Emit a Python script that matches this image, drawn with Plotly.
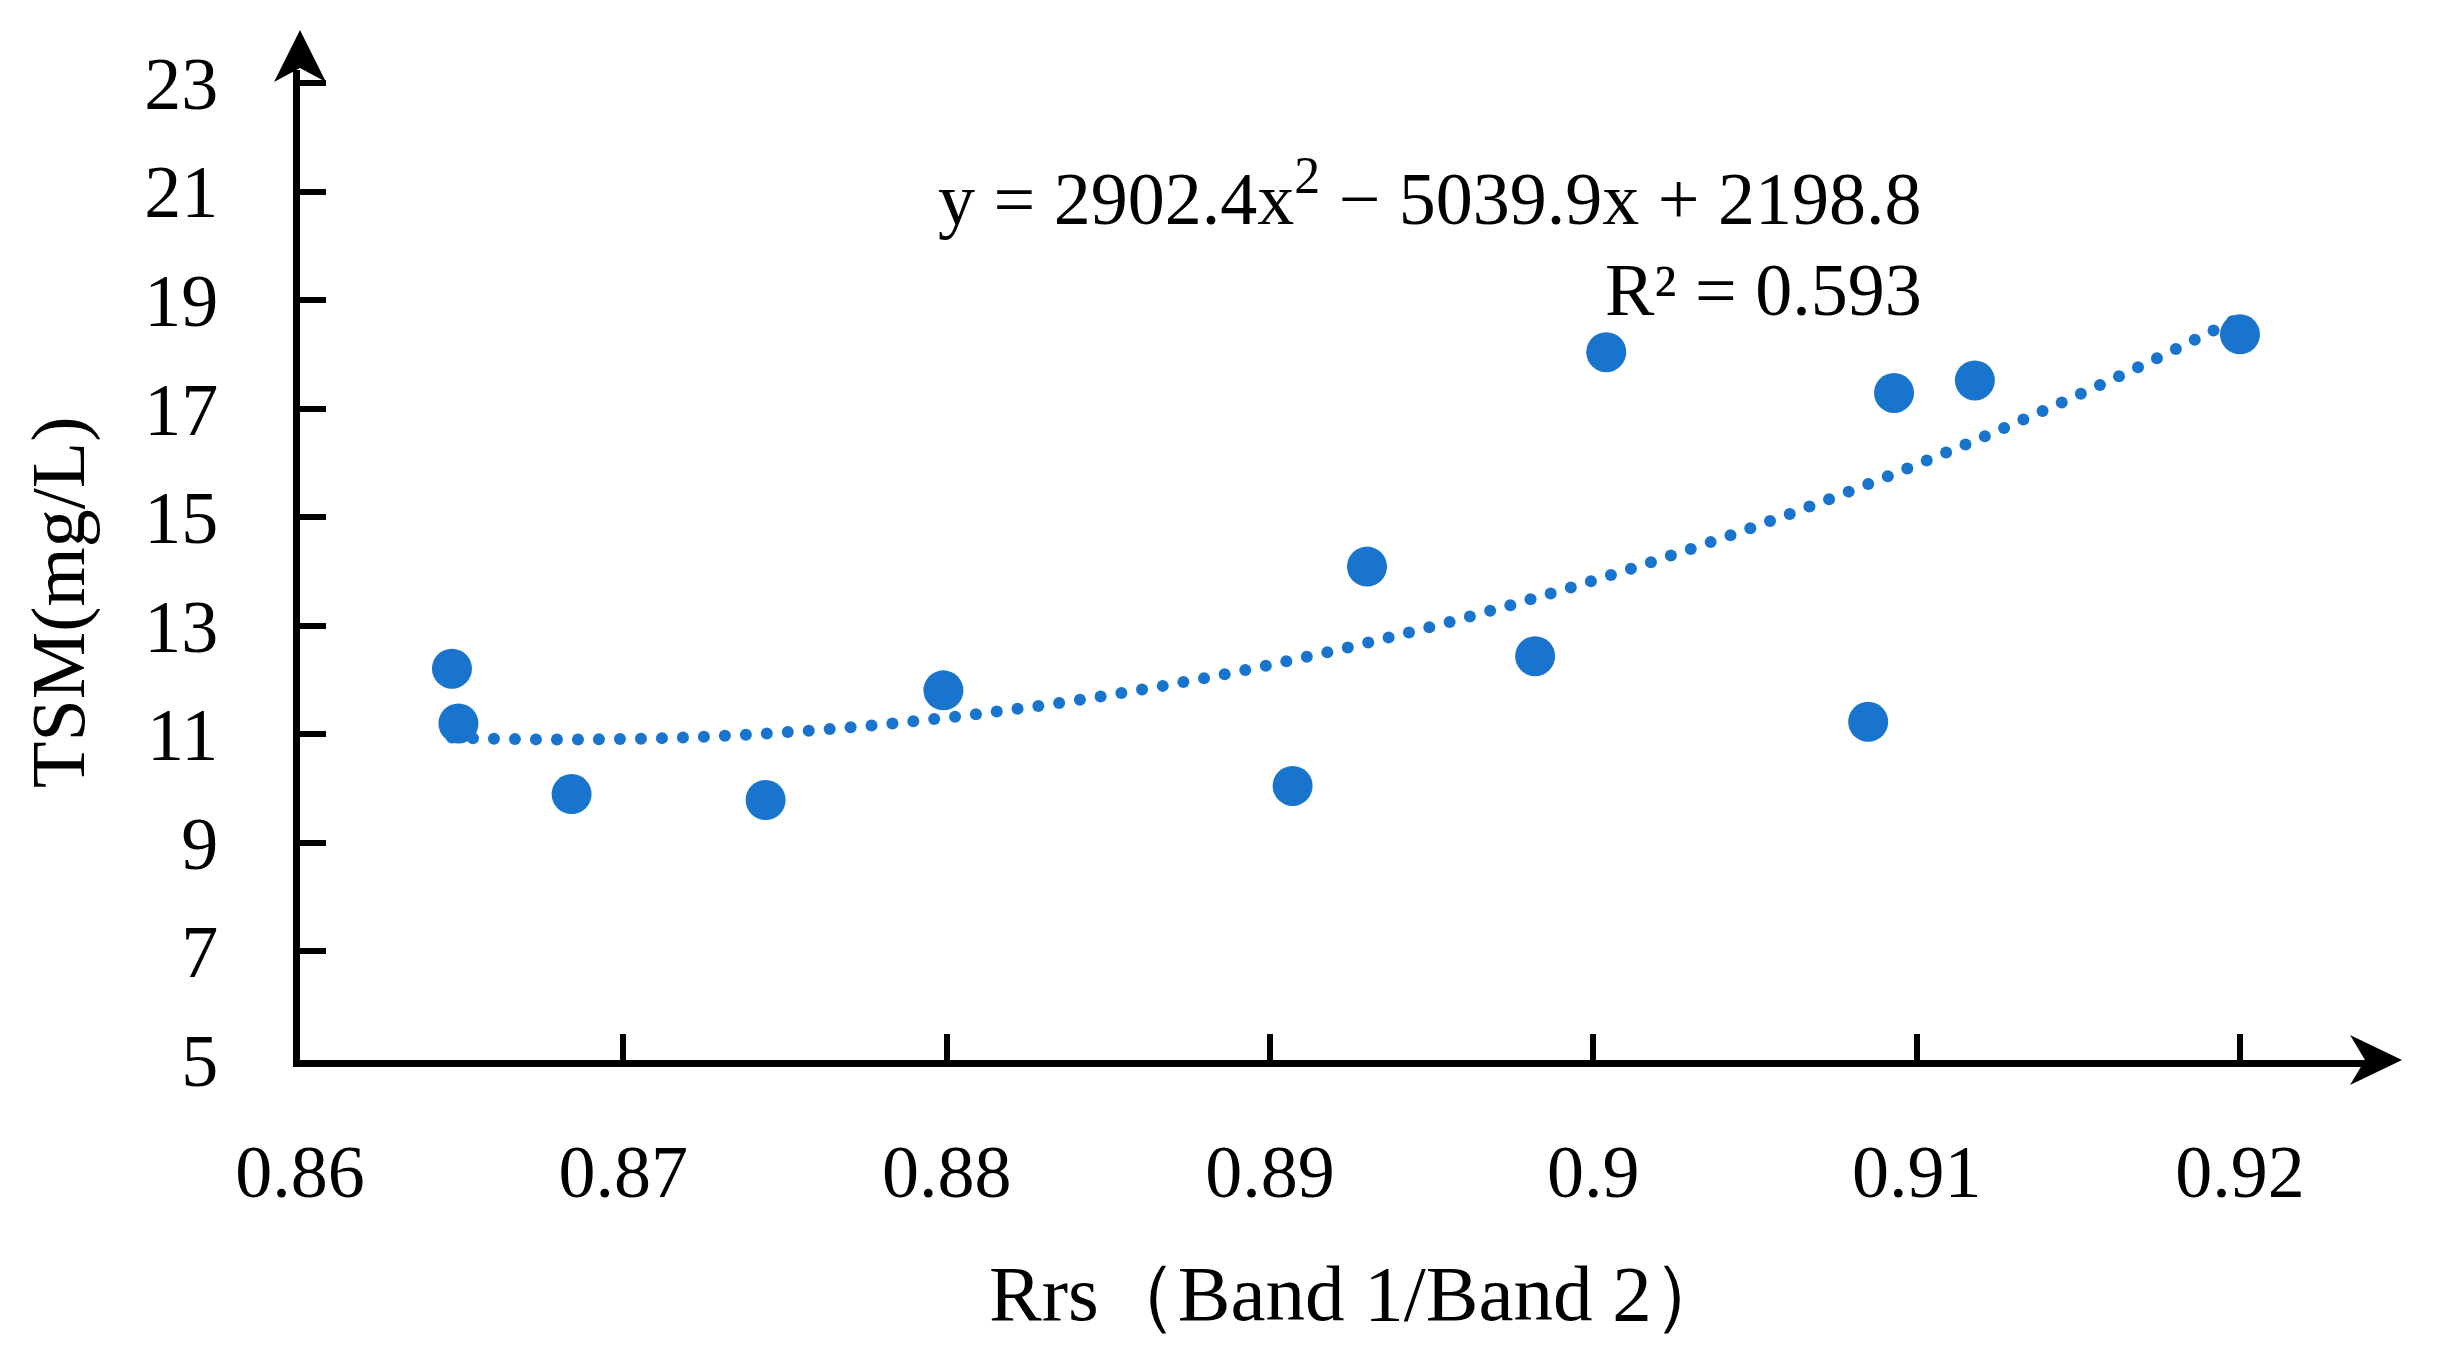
import numpy as np
import plotly.graph_objects as go

# ---------------- data ----------------
rrs_ratio = [0.8647, 0.8649, 0.8684, 0.8744, 0.8799, 0.8907, 0.8930,
             0.8982, 0.9004, 0.9085, 0.9093, 0.9118, 0.9200]
tsm = [12.21, 11.20, 9.90, 9.79, 11.81, 10.05, 14.09,
       12.44, 18.04, 11.23, 17.29, 17.52, 18.37]
# fitted quadratic trendline (as printed on the chart)
coef_a, coef_b, coef_c = 2902.4, -5039.9, 2198.8
r_squared = 0.593

x_tickvals = [0.86, 0.87, 0.88, 0.89, 0.90, 0.91, 0.92]
x_ticktext = ["0.86", "0.87", "0.88", "0.89", "0.9", "0.91", "0.92"]
y_tickvals = [5, 7, 9, 11, 13, 15, 17, 19, 21, 23]

# ---------------- geometry ----------------
W, H = 2462, 1367
L, R, T, B = 300, 2368, 70, 1060          # plot area in pixels
X0, X_PER_PX = 0.86, 0.06 / 1940.0        # 0.86 -> 0.92 over 1940 px
Y0, Y_PER_PX = 5.0, 18.0 / 977.0          # 5 -> 23 over 977 px
x_range = [X0, X0 + (R - L) * X_PER_PX]
y_range = [Y0, Y0 + (B - T) * Y_PER_PX]

BLUE = "#1874CD"
FONT = "Palatino Linotype, Book Antiqua, Liberation Serif, serif"
FS = 74

def to_px(x, y):
    return (L + (np.asarray(x) - X0) / X_PER_PX, B - (np.asarray(y) - Y0) / Y_PER_PX)

# trendline drawn as round dots, evenly spaced along the curve (in pixels)
xs = np.linspace(min(rrs_ratio), max(rrs_ratio), 4000)
ys = coef_a * xs ** 2 + coef_b * xs + coef_c
px, py = to_px(xs, ys)
arc = np.concatenate([[0], np.cumsum(np.hypot(np.diff(px), np.diff(py)))])
s = np.arange(0, arc[-1], 21.0)
tx = np.interp(s, arc, xs)
ty = coef_a * tx ** 2 + coef_b * tx + coef_c

fig = go.Figure()
fig.add_trace(go.Scatter(x=tx, y=ty, mode="markers",
                         marker=dict(size=12, color=BLUE, line=dict(width=0)),
                         hoverinfo="skip", showlegend=False))
fig.add_trace(go.Scatter(x=rrs_ratio, y=tsm, mode="markers",
                         marker=dict(size=40, color=BLUE, line=dict(width=0)),
                         showlegend=False))

def pf(pxv, pyv):
    return ((pxv - L) / (R - L), (B - pyv) / (B - T))

def arrow_path(pts):
    p = [pf(a, b) for a, b in pts]
    return "M " + " L ".join(f"{a:.5f},{b:.5f}" for a, b in p) + " Z"

shapes = [
    dict(type="path", xref="paper", yref="paper", line=dict(width=0), fillcolor="black",
         path=arrow_path([(300, 30), (326, 82), (300, 68), (274, 82)])),
    dict(type="path", xref="paper", yref="paper", line=dict(width=0), fillcolor="black",
         path=arrow_path([(2402, 1060), (2350, 1085), (2365, 1060), (2350, 1035)])),
]

ex, ey = pf(1924, 193)
rx, ry = pf(1924, 290)
xtx, xty = pf(1360, 1293)
ytx, yty = pf(58, 602)
annotations = [
    dict(text=f"y = {coef_a}x<sup>2</sup> − {abs(coef_b)}x + {coef_c}", xref="paper", yref="paper",
         x=ex, y=ey, xanchor="right", yanchor="middle", showarrow=False,
         font=dict(family=FONT, size=FS, color="black")),
    dict(text=f"R² = {r_squared}", xref="paper", yref="paper",
         x=rx, y=ry, xanchor="right", yanchor="middle", showarrow=False,
         font=dict(family=FONT, size=FS, color="black")),
    dict(text="Rrs（Band 1/Band 2）", xref="paper", yref="paper",
         x=xtx, y=xty, xanchor="center", yanchor="middle", showarrow=False,
         font=dict(family=FONT, size=79, color="black")),
    dict(text="TSM(mg/L)", xref="paper", yref="paper", textangle=-90,
         x=ytx, y=yty, xanchor="center", yanchor="middle", showarrow=False,
         font=dict(family=FONT, size=76, color="black")),
]

axis_common = dict(showline=True, linecolor="black", linewidth=7, showgrid=False,
                   zeroline=False, ticks="inside", ticklen=26, tickwidth=6,
                   tickcolor="black", tickfont=dict(family=FONT, size=FS, color="black"),
                   mirror=False, fixedrange=True)

fig.update_layout(
    width=W, height=H, autosize=False,
    margin=dict(l=L, r=W - R, t=T, b=H - B, pad=0),
    paper_bgcolor="white", plot_bgcolor="white",
    xaxis=dict(range=x_range, tickmode="array", tickvals=x_tickvals, ticktext=x_ticktext,
               ticklabelstandoff=41, **axis_common),
    yaxis=dict(range=y_range, tickmode="array", tickvals=y_tickvals,
               ticklabelstandoff=60, **axis_common),
    shapes=shapes, annotations=annotations,
)

fig.write_html("out.html", config={"displayModeBar": False},
               post_script="document.body.style.margin='0';document.body.style.overflow='hidden';")
